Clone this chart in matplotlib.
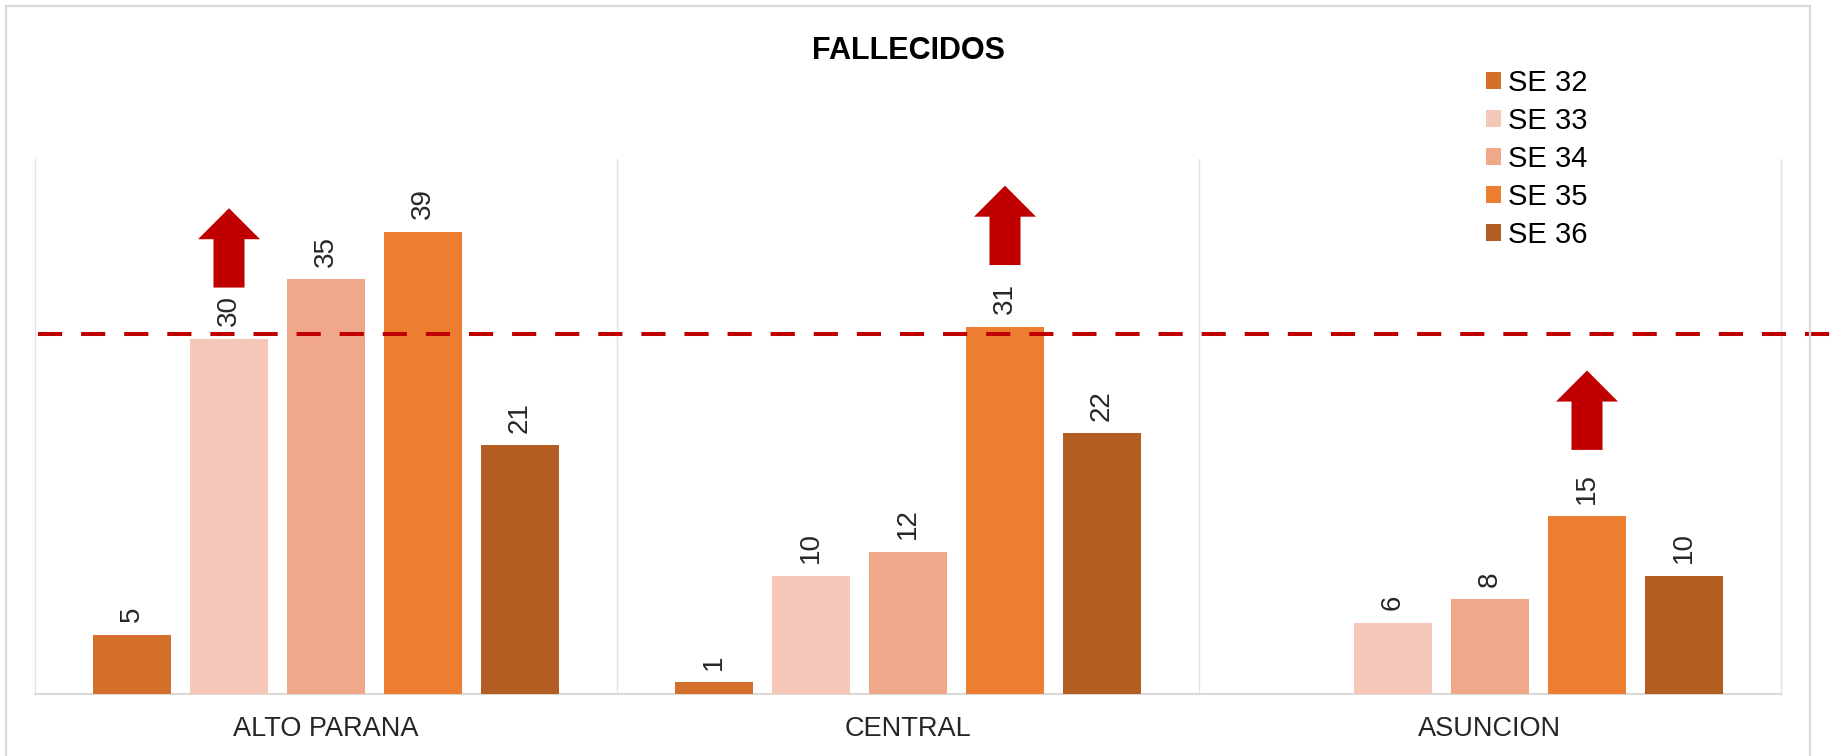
import numpy as np
import matplotlib.pyplot as plt
from matplotlib.patches import FancyArrow, Rectangle

plt.rcParams['font.family'] = ['Liberation Sans', 'DejaVu Sans']

# data
regions = ['ALTO PARANA', 'CENTRAL', 'ASUNCION']
weeks = ['SE 32', 'SE 33', 'SE 34', 'SE 35', 'SE 36']
se32 = [5, 1, np.nan]
se33 = [30, 10, 6]
se34 = [35, 12, 8]
se35 = [39, 31, 15]
se36 = [21, 22, 10]
series = [se32, se33, se34, se35, se36]
colors = ['#D46F2B', '#F4C7B8', '#F0A78A', '#ED7D31', '#B35D22']

# dashed reference level and red "increase" arrows (region, week, base value)
threshold = 30.35
arrows = [(0, 1, 34.3), (1, 3, 36.2), (2, 3, 20.6)]
arrow_len = 6.7

fig = plt.figure(figsize=(18.47, 7.56), dpi=100)
ax = fig.add_axes([35 / 1847, 1 - 694 / 756, 1746 / 1847, 535 / 756])

x = np.arange(len(regions))
step = 1 / 6
width = 0.134

for i, (vals, col, name) in enumerate(zip(series, colors, weeks)):
    pos = x + (i - 2) * step
    ax.bar(pos, vals, width=width, color=col, label=name, zorder=3)
    for p, v in zip(pos, vals):
        if np.isnan(v):
            continue
        ax.annotate(f'{v:g}', (p, v), xytext=(0, 9), textcoords='offset points',
                    rotation=90, ha='center', va='bottom', fontsize=20, color='#262626')

ax.set_xlim(-0.5, 2.5)
ax.set_ylim(0, 45.15)
ax.set_yticks([])
ax.set_xticks(x)
ax.set_xticklabels(regions, fontsize=19.5)
ax.tick_params(axis='x', length=0, pad=16, colors='#262626')
ax.set_xticks([0.5, 1.5], minor=True)
ax.tick_params(axis='x', which='minor', length=0)
ax.grid(axis='x', which='minor', color='#E3E3E3', lw=1.0)
ax.spines['top'].set_visible(False)
for s in ['left', 'right']:
    ax.spines[s].set_color('#E3E3E3')
    ax.spines[s].set_linewidth(1.0)
ax.spines['bottom'].set_color('#D9D9D9')
ax.spines['bottom'].set_linewidth(1.5)

ax.set_title('FALLECIDOS', fontsize=22, fontweight='bold', y=1.187, pad=0)

# dashed line, runs past the plot area to the right edge
ax.plot([-0.495, 2.62], [threshold, threshold], color='#C00000', lw=2.9,
        dashes=(6, 4.7), clip_on=False, zorder=5)

for r, w, base in arrows:
    ax.add_patch(FancyArrow(x[r] + (w - 2) * step, base, 0, arrow_len,
                            width=0.0533, head_width=0.1065, head_length=2.62,
                            length_includes_head=True, color='#C00000', lw=0, zorder=6))

leg = ax.legend(loc='upper left', bbox_to_anchor=(1486 / 1847, 1 - 69 / 756),
                bbox_transform=fig.transFigure, frameon=False, fontsize=21,
                handlelength=0.52, handleheight=0.52, handletextpad=0.25,
                labelspacing=0.34, borderpad=0, borderaxespad=0)

# chart border
fig.patches.append(Rectangle((6 / 1847, -0.02), 1804 / 1847, 750 / 756 + 0.02,
                             transform=fig.transFigure, fill=False,
                             ec='#D9D9D9', lw=1.6))

fig.savefig('out.png', dpi=100)
